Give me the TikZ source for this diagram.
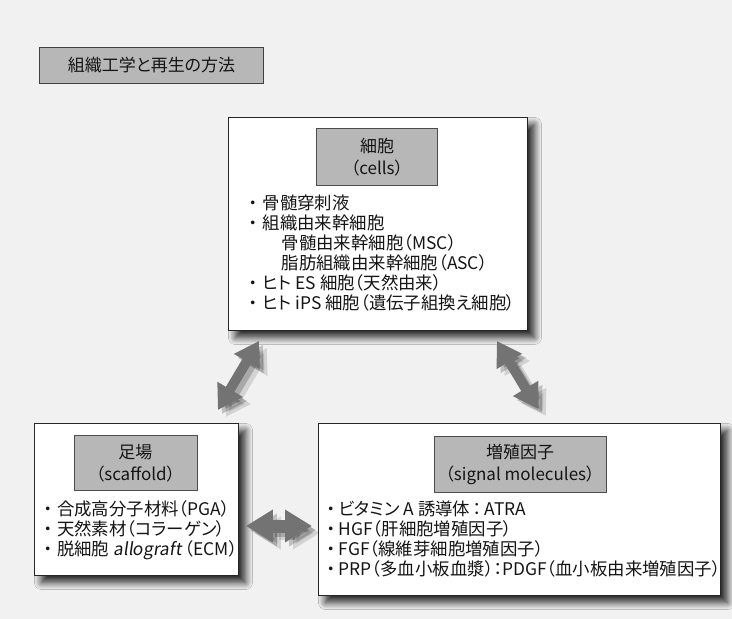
\documentclass[tikz,border=0pt]{standalone}
\usepackage{fontspec}
\setmainfont{Noto Sans CJK JP}[RawFeature=+palt]
\newfontfamily\slfont{Noto Sans CJK JP}[RawFeature=+palt,FakeSlant=0.15]
\usetikzlibrary{arrows.meta,shadows.blur,calc}
\newcommand\bul[1]{\makebox[#1][c]{・}}
\definecolor{bgcol}{HTML}{F1F1F1}
\definecolor{hdrcol}{HTML}{B7B7B7}
\definecolor{arrcol}{HTML}{737373}
\definecolor{txtcol}{HTML}{151515}
\tikzset{
  panel/.style={draw=black!85, line width=0.9pt, fill=white, inner sep=0pt, anchor=north west,
    blur shadow={shadow xshift=7pt, shadow yshift=-7pt, shadow blur radius=7pt, shadow blur steps=12, shadow opacity=85}},
  hdr/.style={draw=black!70, line width=0.8pt, fill=hdrcol, inner sep=0pt, align=center,
    font=\fontsize{17}{22}\selectfont, text=txtcol},
  item/.style={anchor=base west, inner sep=0pt, font=\fontsize{17.4}{20}\selectfont, text=txtcol},
  bigarrow/.style={draw=arrcol, line width=10pt,
    {Triangle[length=24pt,width=28pt]}-{Triangle[length=24pt,width=28pt]}},
  flatarrow/.style={draw=arrcol, line width=13pt,
    {Triangle[length=27pt,width=31pt]}-{Triangle[length=27pt,width=31pt]}},
  shade1/.style={draw=black, draw opacity=0.2, fill opacity=0.2, transform canvas={shift={(4pt,-4pt)}}},
  shade2/.style={draw=black, draw opacity=0.12, fill opacity=0.12, transform canvas={shift={(8pt,-7pt)}}}
}
\begin{document}
\begin{tikzpicture}[x=1pt,y=-1pt]
\fill[bgcol] (0,0) rectangle (732,619);
\useasboundingbox (0,0) rectangle (732,619);

% title
\node[draw=black!75, line width=0.9pt, fill=hdrcol, inner sep=0pt, anchor=north west,
  minimum width=224pt, minimum height=36pt] (title) at (39,47) {};
\node[inner sep=0pt, font=\fontsize{17}{20}\selectfont, text=txtcol] (titletext) at (title.center) {組織工学と再生の方法};

% panels
\node[panel, minimum width=299pt, minimum height=213pt] (cells) at (228,117) {};
\node[panel, minimum width=204pt, minimum height=152pt] (scaf) at (34,423) {};
\node[panel, minimum width=402pt, minimum height=172pt] (sig) at (318,423) {};

% headers
\node[hdr, minimum width=121pt, minimum height=57pt] (cellsH) at (377,157) {細胞\\（cells）};
\node[hdr, minimum width=123pt, minimum height=55pt] (scafH) at (135.5,463) {足場\\（scaffold）};
\node[hdr, minimum width=172pt, minimum height=56pt] (sigH) at (520,464) {増殖因子\\（signal molecules）};

% cells items
\node[item] (c1) at (243.5,209.6) {\bul{19pt}骨髄穿刺液};
\node[item] (c2) at (243.5,229.6) {\bul{19pt}組織由来幹細胞};
\node[item] (c3) at (281.5,249.6) {骨髄由来幹細胞（MSC）};
\node[item] (c4) at (281.5,269.6) {脂肪組織由来幹細胞（ASC）};
\node[item] (c5) at (243.5,289.6) {\bul{19pt}ヒト ES 細胞（天然由来）};
\node[item] (c6) at (243.5,309.6) {\bul{19pt}ヒト iPS 細胞（遺伝子組換え細胞）};

% scaffold items
\node[item] (s1) at (39,515) {\bul{18pt}合成高分子材料（PGA）};
\node[item] (s2) at (39,535) {\bul{18pt}天然素材（コラーゲン）};
\node[item] (s3) at (39,555) {\bul{18pt}脱細胞 {\slfont allograft}\,（ECM）};

% signal items
\node[item] (g1) at (323.5,515) {\bul{15pt}ビタミン A 誘導体\,：\,ATRA};
\node[item] (g2) at (323.5,535) {\bul{15pt}HGF（肝細胞増殖因子）};
\node[item] (g3) at (323.5,555) {\bul{15pt}FGF（線維芽細胞増殖因子）};
\node[item] (g4) at (323.5,575) {\bul{15pt}PRP（多血小板血漿）：PDGF（血小板由来増殖因子）};

% connector end points
\coordinate (a1) at ($(cells.south west)+(31,10)$);
\coordinate (a2) at ($(scaf.north east)+(-21,-13)$);
\coordinate (b1) at ($(cells.south east)+(-31,10)$);
\coordinate (b2) at ($(sig.north west)+(220,-14)$);
\coordinate (h1) at ($(scaf.north east)+(7,103)$);
\coordinate (h2) at ($(sig.north west)+(-6,103)$);

% arrow shadows
\draw[bigarrow, shade2] (a1) -- (a2);
\draw[bigarrow, shade1] (a1) -- (a2);
\draw[bigarrow, shade2] (b1) -- (b2);
\draw[bigarrow, shade1] (b1) -- (b2);
\draw[flatarrow, shade2] (h1) -- (h2);
\draw[flatarrow, shade1] (h1) -- (h2);
% arrows
\draw[bigarrow] (a1) -- (a2);
\draw[bigarrow] (b1) -- (b2);
\draw[flatarrow] (h1) -- (h2);
\end{tikzpicture}
\end{document}
